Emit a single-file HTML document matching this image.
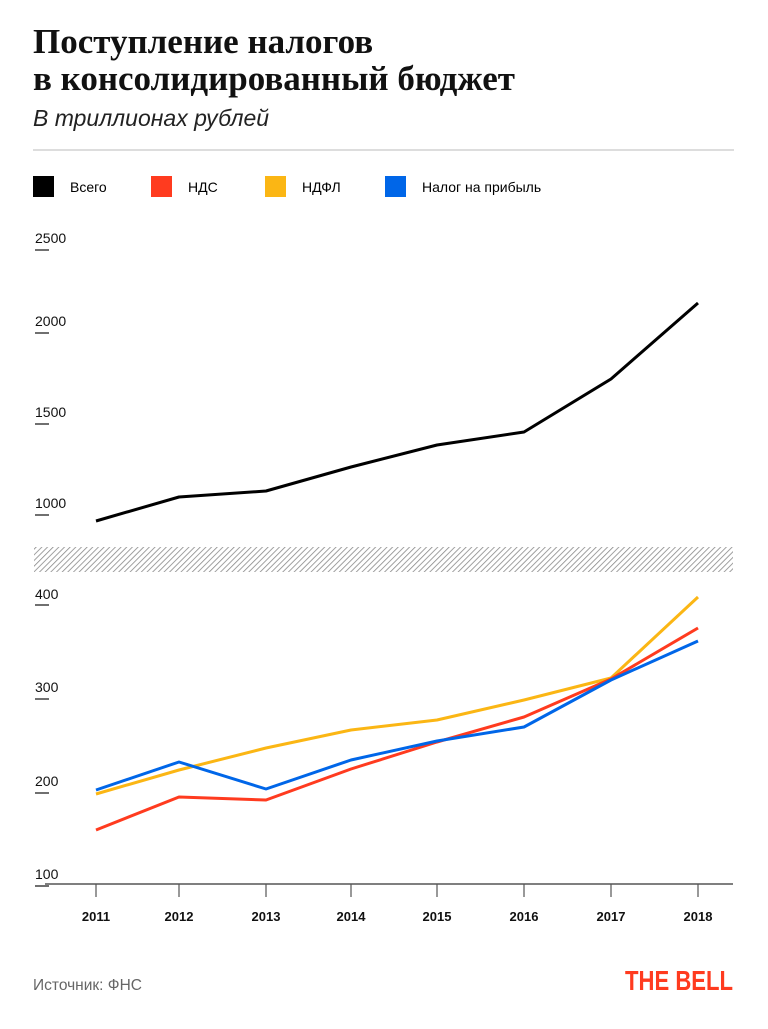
<!DOCTYPE html>
<html><head><meta charset="utf-8"><style>
body{margin:0;width:768px;height:1024px;background:#fff;overflow:hidden;font-family:"Liberation Sans",sans-serif}
</style></head><body>
<svg width="768" height="1024" xmlns="http://www.w3.org/2000/svg" font-family="Liberation Sans, sans-serif">
<defs><pattern id="h" width="4" height="4" patternUnits="userSpaceOnUse" patternTransform="rotate(45)"><rect width="4" height="4" fill="#fff"/><line x1="0" y1="0" x2="0" y2="4" stroke="#888" stroke-width="1.6"/></pattern></defs>
<text x="33" y="53" font-family="Liberation Serif, serif" font-weight="bold" font-size="35" fill="#111">Поступление налогов</text>
<text x="33" y="90" font-family="Liberation Serif, serif" font-weight="bold" font-size="35" fill="#111">в консолидированный бюджет</text>
<text x="33" y="126" font-style="italic" font-size="23" fill="#222">В триллионах рублей</text>
<line x1="33" y1="150" x2="734" y2="150" stroke="#bbb" stroke-width="1"/>
<rect x="33" y="176" width="21" height="21" fill="#000"/><text x="70" y="192" font-size="14">Всего</text>
<rect x="151" y="176" width="21" height="21" fill="#ff3b1f"/><text x="188" y="192" font-size="14">НДС</text>
<rect x="265" y="176" width="21" height="21" fill="#fbb614"/><text x="302" y="192" font-size="14">НДФЛ</text>
<rect x="385" y="176" width="21" height="21" fill="#0066e8"/><text x="422" y="192" font-size="14">Налог на прибыль</text>
<g font-size="14" fill="#111">
<text x="35" y="243">2500</text><text x="35" y="326">2000</text><text x="35" y="417">1500</text><text x="35" y="508">1000</text>
<text x="35" y="599">400</text><text x="35" y="692">300</text><text x="35" y="786">200</text><text x="35" y="879">100</text>
</g>
<g stroke="#111" stroke-width="1.2">
<line x1="35" y1="250" x2="49" y2="250"/><line x1="35" y1="333" x2="49" y2="333"/><line x1="35" y1="424" x2="49" y2="424"/><line x1="35" y1="515" x2="49" y2="515"/>
<line x1="35" y1="605" x2="49" y2="605"/><line x1="35" y1="699" x2="49" y2="699"/><line x1="35" y1="793" x2="49" y2="793"/><line x1="35" y1="886" x2="49" y2="886"/>
</g>
<rect x="34" y="547" width="699" height="25" fill="url(#h)"/>
<line x1="45" y1="884" x2="733" y2="884" stroke="#555" stroke-width="1.5"/>
<g stroke="#555" stroke-width="1.2">
<line x1="96" y1="884" x2="96" y2="897"/><line x1="179" y1="884" x2="179" y2="897"/><line x1="266" y1="884" x2="266" y2="897"/><line x1="351" y1="884" x2="351" y2="897"/><line x1="437" y1="884" x2="437" y2="897"/><line x1="524" y1="884" x2="524" y2="897"/><line x1="611" y1="884" x2="611" y2="897"/><line x1="698" y1="884" x2="698" y2="897"/>
</g>
<g font-size="13" font-weight="bold" text-anchor="middle" fill="#111">
<text x="96" y="921">2011</text><text x="179" y="921">2012</text><text x="266" y="921">2013</text><text x="351" y="921">2014</text><text x="437" y="921">2015</text><text x="524" y="921">2016</text><text x="611" y="921">2017</text><text x="698" y="921">2018</text>
</g>
<g fill="none" stroke-width="3" stroke-linejoin="round">
<polyline stroke="#000" points="96,521 179,497 266,491 351,467 437,445 524,432 611,379 698,303"/>
<polyline stroke="#fbb614" points="96,794 179,770 266,748 351,730 437,720 524,700 611,678 698,597"/>
<polyline stroke="#ff3b1f" points="96,830 179,797 266,800 351,769 437,742 524,717 611,679 698,628"/>
<polyline stroke="#0066e8" points="96,790 179,762 266,789 351,760 437,741 524,727 611,680 698,641"/>
</g>
<text x="33" y="990" font-size="15.5" fill="#666">Источник: ФНС</text>
<text x="733" y="990" font-size="28" font-weight="bold" fill="#ff3b1f" text-anchor="end" textLength="108" lengthAdjust="spacingAndGlyphs">THE BELL</text>
</svg>
</body></html>
